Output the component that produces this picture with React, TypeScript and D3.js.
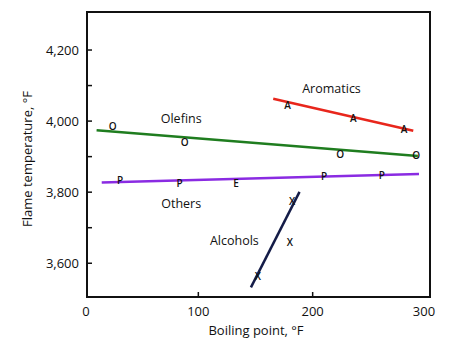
import React from "react";
import * as d3 from "d3";

const W = 450, H = 344;

const olefinLine: [number, number][] = [[11, 3974], [292, 3902]];
const aromaticLine: [number, number][] = [[165.5, 4063], [288, 3973]];
const othersLine: [number, number][] = [[15.5, 3827], [293, 3851]];
const alcoholLine: [number, number][] = [[146, 3532], [188.5, 3801]];

const olefinPts: [number, number][] = [[25, 3985], [88, 3942], [224, 3908], [290.5, 3904]];
const aromaticPts: [number, number][] = [[178, 4046], [235.5, 4008], [280, 3978]];
const othersPts: [number, number, string][] = [[31.5, 3835, "P"], [83.5, 3827, "P"], [133, 3826, "E"], [210, 3846, "P"], [260.5, 3847, "P"]];
const alcoholPts: [number, number][] = [[182, 3776], [180, 3661], [152, 3564]];

const labels: [string, number, number][] = [
  ["Aromatics", 216.5, 4093],
  ["Olefins", 85, 4008],
  ["Others", 85, 3768],
  ["Alcohols", 131.5, 3663],
];

const xTickLabels = [0, 100, 200, 300];
const xTickMarks = [100, 200];
const yTickLabels = [3600, 3800, 4000, 4200];
const yTickMarks = [3600, 3700, 3800, 3900, 4000, 4100, 4200];

export default function App() {
  const x = d3.scaleLinear().domain([0, 300]).range([84, 427]);
  const y = d3.scaleLinear().domain([3505, 4307]).range([297, 12]);
  const line = d3.line<[number, number]>().x(d => x(d[0])).y(d => y(d[1]));
  const fmt = d3.format(",");
  const font = "'Open Sans', 'DejaVu Sans', sans-serif";
  const series = [
    { d: olefinLine, c: "#1f7d1f" },
    { d: aromaticLine, c: "#e8261c" },
    { d: othersLine, c: "#8a2be2" },
    { d: alcoholLine, c: "#141c48" },
  ];
  const marker = (px: number, py: number, t: string, k: string) => (
    <text key={k} x={x(px)} y={y(py)} textAnchor="middle" dominantBaseline="central" fontSize={10} fontWeight={600} fill="#111" fontFamily={font}>{t}</text>
  );
  return (
    <svg width={W} height={H} style={{ position: "absolute", left: 0, top: 0 }}>
      <rect x={0} y={0} width={W} height={H} fill="#fff" />
      {series.map((s, i) => (
        <path key={i} d={line(s.d) || ""} stroke={s.c} strokeWidth={2.5} fill="none" />
      ))}
      {olefinPts.map((p, i) => marker(p[0], p[1], "O", "o" + i))}
      {aromaticPts.map((p, i) => marker(p[0], p[1], "A", "a" + i))}
      {othersPts.map((p, i) => marker(p[0], p[1], p[2], "p" + i))}
      {alcoholPts.map((p, i) => marker(p[0], p[1], "X", "x" + i))}
      {labels.map(([t, lx, ly]) => (
        <text key={t} x={x(lx)} y={y(ly)} textAnchor="middle" dominantBaseline="central" fontSize={12.5} fill="#111" fontFamily={font}>{t}</text>
      ))}
      <rect x={87} y={12} width={343} height={285} fill="none" stroke="#111" strokeWidth={2} />
      {xTickMarks.map(v => (
        <line key={v} x1={x(v)} x2={x(v)} y1={297} y2={292} stroke="#111" strokeWidth={1.5} />
      ))}
      {yTickMarks.map(v => (
        <line key={v} x1={87} x2={92} y1={y(v)} y2={y(v)} stroke="#111" strokeWidth={1.5} />
      ))}
      {xTickLabels.map((v, i) => (
        <text key={v} x={i === 0 ? 86 : i === 3 ? 424 : x(v)} y={311} textAnchor="middle" dominantBaseline="central" fontSize={13} fill="#111" fontFamily={font}>{v}</text>
      ))}
      {yTickLabels.map(v => (
        <text key={v} x={79} y={y(v)} textAnchor="end" dominantBaseline="central" fontSize={13} fill="#111" fontFamily={font}>{fmt(v)}</text>
      ))}
      <text x={256} y={330} textAnchor="middle" dominantBaseline="central" fontSize={13} fill="#111" fontFamily={font}>Boiling point, °F</text>
      <text transform={`translate(27,159) rotate(-90)`} textAnchor="middle" dominantBaseline="central" fontSize={13} fill="#111" fontFamily={font}>Flame temperature, °F</text>
    </svg>
  );
}
